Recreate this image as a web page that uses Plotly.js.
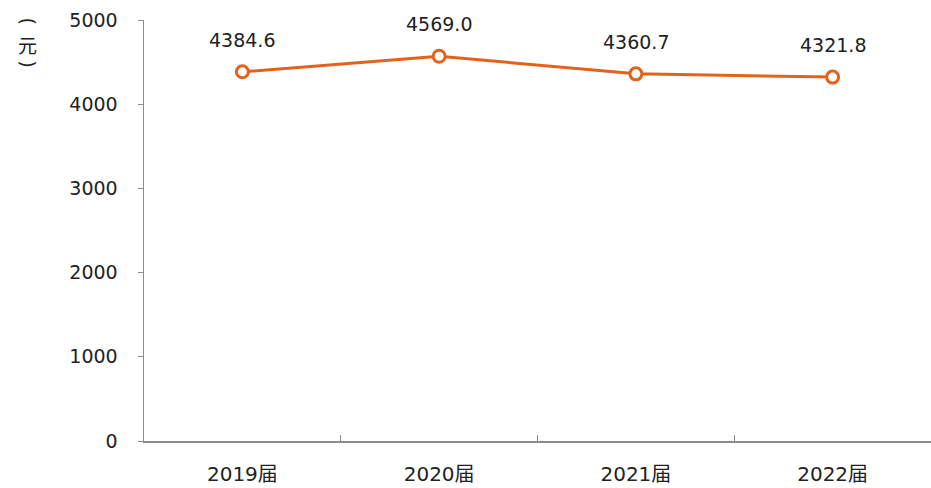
<!DOCTYPE html>
<html><head><meta charset="utf-8">
<script src="https://cdn.plot.ly/plotly-3.0.1.min.js"></script>
<style>html,body{margin:0;padding:0;background:#fff}</style>
</head><body><div id="c" style="width:931px;height:488px"></div>
<script>
const categories = ["2019届", "2020届", "2021届", "2022届"];
const values = [4384.6, 4569.0, 4360.7, 4321.8];
const labels = ["4384.6", "4569.0", "4360.7", "4321.8"];
const yTicks = [0, 1000, 2000, 3000, 4000, 5000];

const font = "'DejaVu Sans', 'Noto Sans CJK SC', sans-serif";
const cjk = "'Noto Sans CJK SC', sans-serif";
const trace = {
  x: categories, y: values, type: "scatter", mode: "lines+markers",
  line: {color: "#E2621B", width: 3},
  marker: {size: 12, color: "#ffffff", line: {color: "#E2621B", width: 3}},
  hoverinfo: "skip"
};
const annotations = categories.map((c, i) => ({
  x: c, y: values[i], text: labels[i], showarrow: false, yshift: 32,
  font: {family: font, size: 19, color: "#222"}
}));
[["(", 90, -1, "'DejaVu Sans'"], ["元", 0, -24, cjk], [")", 90, -44, "'DejaVu Sans'"]].forEach(([t, a, s, f]) => annotations.push({
  xref: "paper", yref: "paper", x: -0.148, y: 1.0, xanchor: "center", yanchor: "middle",
  text: t, textangle: a, yshift: s, showarrow: false,
  font: {family: f, size: 19, color: "#222"}
}));
const layout = {
  width: 931, height: 488,
  margin: {l: 144, r: 0, t: 20, b: 47},
  paper_bgcolor: "#fff", plot_bgcolor: "#fff",
  showlegend: false,
  font: {family: font, size: 19, color: "#222"},
  xaxis: {
    type: "category", range: [-0.5, 3.5], showline: true, linecolor: "#8c8c8c", linewidth: 1.5,
    showgrid: false, zeroline: false, ticks: "inside", tickson: "boundaries",
    ticklen: 6, tickcolor: "#8c8c8c", ticklabelstandoff: 14,
    tickfont: {family: font, size: 20, color: "#222"}
  },
  yaxis: {
    range: [0, 5000], tickvals: yTicks, showline: true, linecolor: "#8c8c8c", linewidth: 1.5,
    showgrid: false, zeroline: false, ticks: "outside", ticklen: 5, tickcolor: "#8c8c8c",
    ticklabelstandoff: 16,
    tickfont: {family: font, size: 19, color: "#222"}
  },
  annotations: annotations
};
Plotly.newPlot("c", [trace], layout, {displayModeBar: false, staticPlot: true});
</script></body></html>
